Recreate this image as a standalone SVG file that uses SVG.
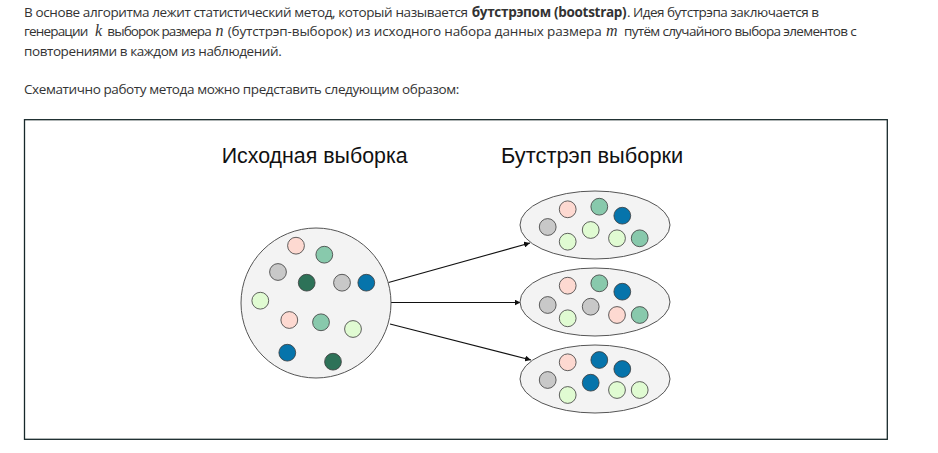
<svg xmlns="http://www.w3.org/2000/svg" width="938" height="453" viewBox="0 0 938 453">
<style>
.p{font-family:"Open Sans","Noto Sans",sans-serif;font-size:13.5px;fill:#333}
.b{font-weight:bold}
.m{font-family:"Liberation Serif","DejaVu Serif",serif;font-style:italic;font-size:16px;fill:#333}
.h{font-family:"Liberation Sans",Arial,sans-serif;font-size:21.5px;fill:#111}
.dot{stroke:#3a3a3a;stroke-width:0.8}
.pk{fill:#fdd9d1}.gr{fill:#88c9ac}.gy{fill:#c8c8c8}.dg{fill:#2d7258}.bl{fill:#0674ab}.lg{fill:#e0fbd2}
.con line{stroke:#111;stroke-width:1.1;marker-end:url(#ah)}
</style>
<defs>
<marker id="ah" viewBox="0 0 10 10" refX="10" refY="5" markerWidth="6" markerHeight="6" markerUnits="userSpaceOnUse" orient="auto">
<path d="M0,0 L10,5 L0,10 z" fill="#111"/>
</marker>
</defs>
<rect width="938" height="453" fill="#fff"/>
<g id="intro">
<text class="p" x="24" y="16.7" textLength="444" lengthAdjust="spacing">В основе алгоритма лежит статистический метод, который называется</text>
<text class="p b" x="471.7" y="16.7" textLength="155" lengthAdjust="spacing">бутстрэпом (bootstrap)</text>
<text class="p" x="627" y="16.7" textLength="192" lengthAdjust="spacing">. Идея бутстрэпа заключается в</text>
<text class="p" x="24" y="36.2" textLength="64.3" lengthAdjust="spacing">генерации</text>
<text class="m" x="95" y="36.2">k</text>
<text class="p" x="107.3" y="36.2" textLength="104.4" lengthAdjust="spacing">выборок размера</text>
<text class="m" x="215.5" y="36.2">n</text>
<text class="p" x="227.7" y="36.2" textLength="374" lengthAdjust="spacing">(бутстрэп-выборок) из исходного набора данных размера</text>
<text class="m" x="606" y="36.2">m</text>
<text class="p" x="624" y="36.2" textLength="232.7" lengthAdjust="spacing">путём случайного выбора элементов с</text>
<text class="p" x="24" y="55.7" textLength="257.7" lengthAdjust="spacing">повторениями в каждом из наблюдений.</text>
<text class="p" x="24" y="94.3" textLength="435.3" lengthAdjust="spacing">Схематично работу метода можно представить следующим образом:</text>
</g>
<rect id="frame" x="24.5" y="119.7" width="862.8" height="319.6" fill="#fff" stroke="#17282a" stroke-width="1.3"/>
<g id="titles">
<text class="h" x="221.7" y="163" textLength="186" lengthAdjust="spacingAndGlyphs">Исходная выборка</text>
<text class="h" x="501" y="163" textLength="182.3" lengthAdjust="spacingAndGlyphs">Бутстрэп выборки</text>
</g>
<g id="connectors" class="con">
<line x1="388.5" y1="282.5" x2="530" y2="243"/>
<line x1="391" y1="302.5" x2="520.5" y2="302.5"/>
<line x1="390" y1="324" x2="531" y2="360"/>
</g>
<g id="original">
<circle cx="316" cy="303" r="75" fill="#f3f3f3" stroke="#555" stroke-width="1"/>
<g class="dot">
<circle class="pk" cx="296" cy="245.7" r="8.4"/>
<circle class="gr" cx="324.3" cy="254.7" r="8.4"/>
<circle class="gy" cx="278" cy="272" r="8.4"/>
<circle class="dg" cx="306.7" cy="282.7" r="8.4"/>
<circle class="gy" cx="342" cy="282.7" r="8.4"/>
<circle class="bl" cx="366.3" cy="282.7" r="8.4"/>
<circle class="lg" cx="260.3" cy="300.7" r="8.4"/>
<circle class="pk" cx="289.3" cy="320" r="8.4"/>
<circle class="gr" cx="321" cy="322.3" r="8.4"/>
<circle class="lg" cx="353" cy="329" r="8.4"/>
<circle class="bl" cx="287.3" cy="352.7" r="8.4"/>
<circle class="dg" cx="333" cy="361.7" r="8.4"/>
</g>
</g>
<g id="boot1" transform="translate(595,225)">
<ellipse rx="75" ry="34" fill="#f3f3f3" stroke="#555" stroke-width="1"/>
<g class="dot">
<circle class="pk" cx="-27.3" cy="-15.7" r="8.4"/>
<circle class="gr" cx="4.3" cy="-18.3" r="8.4"/>
<circle class="bl" cx="27.3" cy="-9.3" r="8.4"/>
<circle class="gy" cx="-47.3" cy="2" r="8.4"/>
<circle class="lg" cx="-4.3" cy="5" r="8.4"/>
<circle class="lg" cx="-27.3" cy="16.7" r="8.4"/>
<circle class="lg" cx="22" cy="13.3" r="8.4"/>
<circle class="gr" cx="44.7" cy="13.3" r="8.4"/>
</g>
</g>
<g id="boot2" transform="translate(595,302)">
<ellipse rx="75" ry="34" fill="#f3f3f3" stroke="#555" stroke-width="1"/>
<g class="dot">
<circle class="pk" cx="-27.3" cy="-16.3" r="8.4"/>
<circle class="gr" cx="4.3" cy="-18.7" r="8.4"/>
<circle class="bl" cx="27.3" cy="-10.3" r="8.4"/>
<circle class="gy" cx="-47.3" cy="3" r="8.4"/>
<circle class="gy" cx="-4.3" cy="4.7" r="8.4"/>
<circle class="lg" cx="-27.3" cy="16.3" r="8.4"/>
<circle class="pk" cx="22" cy="13" r="8.4"/>
<circle class="gr" cx="44.7" cy="13" r="8.4"/>
</g>
</g>
<g id="boot3" transform="translate(595,379)">
<ellipse rx="75" ry="34" fill="#f3f3f3" stroke="#555" stroke-width="1"/>
<g class="dot">
<circle class="pk" cx="-27.3" cy="-16.7" r="8.4"/>
<circle class="bl" cx="4.3" cy="-19" r="8.4"/>
<circle class="bl" cx="27.3" cy="-10" r="8.4"/>
<circle class="gy" cx="-47.3" cy="1" r="8.4"/>
<circle class="bl" cx="-4.3" cy="3.7" r="8.4"/>
<circle class="lg" cx="-27.3" cy="16" r="8.4"/>
<circle class="lg" cx="22" cy="11" r="8.4"/>
<circle class="lg" cx="44.7" cy="11" r="8.4"/>
</g>
</g>
</svg>
